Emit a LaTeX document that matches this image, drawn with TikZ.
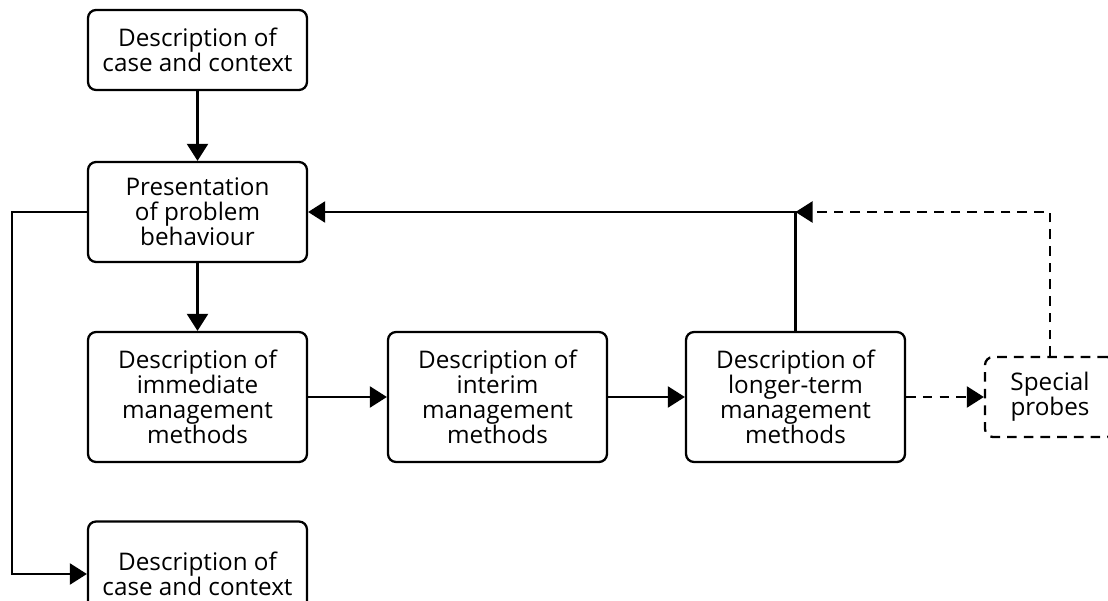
\documentclass[tikz,border=0pt]{standalone}
\usepackage{fontspec}
\setmainfont{Open Sans}
\usetikzlibrary{arrows.meta,positioning}

\begin{document}
\begin{tikzpicture}[x=0.02cm,y=-0.02cm, line width=1.3pt,
    >={Triangle[length=0.34cm,width=0.42cm]},
    box/.style={draw, rounded corners=0.16cm, minimum width=4.38cm, minimum height=1.6cm,
        align=center, font=\fontsize{13.8}{14.2}\selectfont},
    probe/.style={box, dash pattern=on 5.5pt off 4pt, minimum width=2.6cm},
    link/.style={->, dash pattern=on 5.5pt off 4pt}]
    \useasboundingbox (0,0) rectangle (1108,601);
    \clip (0,0) rectangle (1108,601);

    \node [box] (case) at (197.5,50) {Description of\\case and context};
    \node [box, minimum height=2cm] (present) at (197.5,212) {Presentation\\of problem\\behaviour};
    \node [box, minimum height=2.6cm] (immediate) at (197.5,397) {Description of\\immediate\\management\\methods};
    \node [box, minimum height=2.6cm] (interim) at (497.5,397) {Description of\\interim\\management\\methods};
    \node [box, minimum height=2.6cm] (longer) at (795.5,397) {Description of\\longer-term\\management\\methods};
    \node [probe] (probes) at (1050,397) {Special\\probes};
    \node [box, minimum height=2.1cm] (outcome) at (197.5,574) {Description of\\case and context};

    \coordinate (join) at (longer.north |- present.east);
    \coordinate (leftturn) at (12,212);

    \path[->] (case) edge (present);
    \path[->] (present) edge (immediate);
    \path[->] (immediate) edge (interim);
    \path[->] (interim) edge (longer);
    \path[link] (longer) edge (probes);
    \draw[->] (longer.north) |- (present.east);
    \draw[link] (probes.north) |- (join);
    \draw[->] (present.west) -- (leftturn) |- (outcome.west);
\end{tikzpicture}
\end{document}
